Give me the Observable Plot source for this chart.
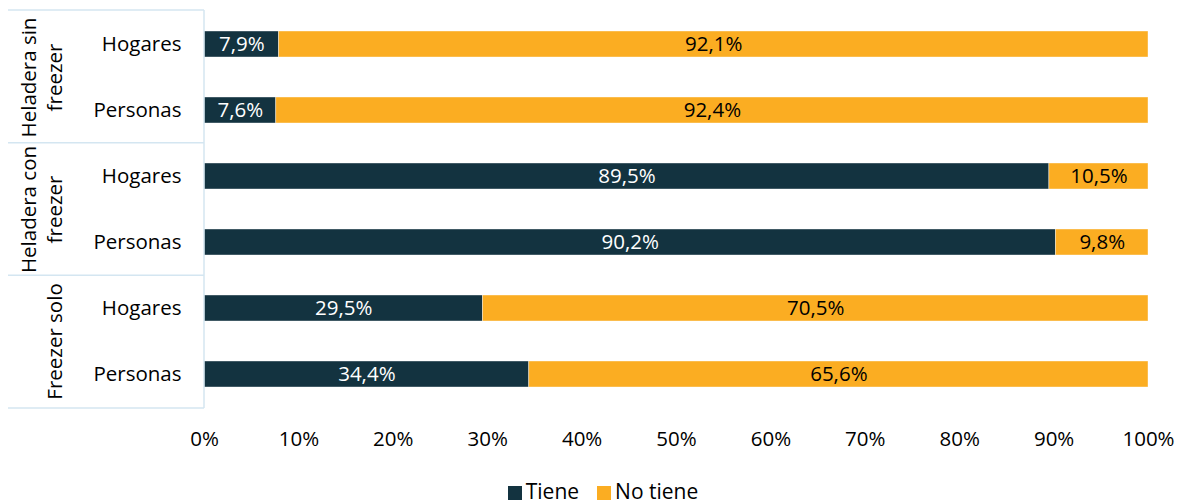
<!DOCTYPE html>
<html>
<head>
<meta charset="utf-8">
<script src="https://cdn.jsdelivr.net/npm/d3@7"></script>
<script src="https://cdn.jsdelivr.net/npm/@observablehq/plot@0.6"></script>
<style>
  html, body { margin: 0; padding: 0; background: #fff; }
  #chart { width: 1186px; }
  .legend { display: flex; justify-content: center; align-items: center; gap: 18px;
    font-family: "Open Sans", sans-serif; font-size: 21px; color: #000; margin-top: 7px; padding-left: 20px; }
  .legend span.sw { display: inline-block; width: 14px; height: 14px; margin-right: 4px; vertical-align: -1px; }
</style>
</head>
<body>
<div id="chart"></div>
<script>
const groups = ["Heladera sin freezer", "Heladera con freezer", "Freezer solo"];
const groupLabels = ["Heladera sin\nfreezer", "Heladera con\nfreezer", "Freezer solo"];
const units = ["Hogares", "Personas"];
const series = ["Tiene", "No tiene"];
const colors = ["#133340", "#FBAD22"];
const textColors = ["#ffffff", "#000000"];
const tiene =   [7.9, 7.6, 89.5, 90.2, 29.5, 34.4];
const noTiene = [92.1, 92.4, 10.5, 9.8, 70.5, 65.6];
const xTicks = [0, 10, 20, 30, 40, 50, 60, 70, 80, 90, 100];

const rows = [];
groups.forEach((g, gi) => {
  units.forEach((u, ui) => {
    const k = gi * units.length + ui;
    rows.push({group: g, unit: u, serie: series[0], value: tiene[k]});
    rows.push({group: g, unit: u, serie: series[1], value: noTiene[k]});
  });
});
const fmt = v => v.toFixed(1).replace(".", ",") + "%";

const W = 1186, H = 470, ML = 204, MR = 38, MT = 10, MB = 62;
const font = "'Open Sans', sans-serif";
const FS = 20.5;

const chart = Plot.plot({
  width: W, height: H,
  marginLeft: ML, marginRight: MR, marginTop: MT, marginBottom: MB,
  style: {fontFamily: font, fontSize: FS + "px", color: "#000", background: "#fff"},
  x: {domain: [0, 100]},
  y: {domain: units, paddingInner: 0.608, paddingOuter: 0.304},
  fy: {domain: groups, padding: 0, axis: null},
  color: {domain: series, range: colors},
  marks: [
    Plot.barX(rows, Plot.stackX({x: "value", y: "unit", fy: "group", fill: "serie", order: null, stroke: "#ffffff", strokeOpacity: 0.5, strokeWidth: 0.8})),
    Plot.text(rows, Plot.stackX({x: "value", y: "unit", fy: "group", order: null,
      text: d => fmt(d.value),
      fill: d => textColors[series.indexOf(d.serie)],
      fontSize: FS})),
    Plot.text(groups, {fy: d => d, text: (d, i) => groupLabels[i], frameAnchor: "left",
      textAnchor: "middle", rotate: -90, dx: -143, lineAnchor: "bottom", lineHeight: 1.25,
      fontSize: FS, fill: "#000"}),
    Plot.axisY({tickSize: 0, tickPadding: 23, fontSize: FS, label: null, textAnchor: "end", fill: "#000"}),
    Plot.axisX({ticks: xTicks, tickSize: 0, tickPadding: 24, fontSize: FS, label: null,
      tickFormat: d => d + "%", fill: "#000"})
  ]
});

// divider lines in the left margin
const svg = d3.select(chart);
const bottom = H - MB;
const fh = (bottom - MT) / groups.length;
const lineColor = "#d4e6f1";
const gl = svg.append("g").attr("stroke", lineColor).attr("stroke-width", 1.5);
gl.append("line").attr("x1", ML).attr("x2", ML).attr("y1", MT).attr("y2", bottom);
for (let i = 0; i <= groups.length; i++) {
  gl.append("line").attr("x1", 8).attr("x2", ML).attr("y1", MT + i * fh).attr("y2", MT + i * fh);
}

document.getElementById("chart").appendChild(chart);

const legend = d3.select("#chart").append("div").attr("class", "legend");
series.forEach((s, i) => {
  const item = legend.append("div");
  item.append("span").attr("class", "sw").style("background", colors[i]);
  item.append("span").text(s);
});
</script>
</body>
</html>
